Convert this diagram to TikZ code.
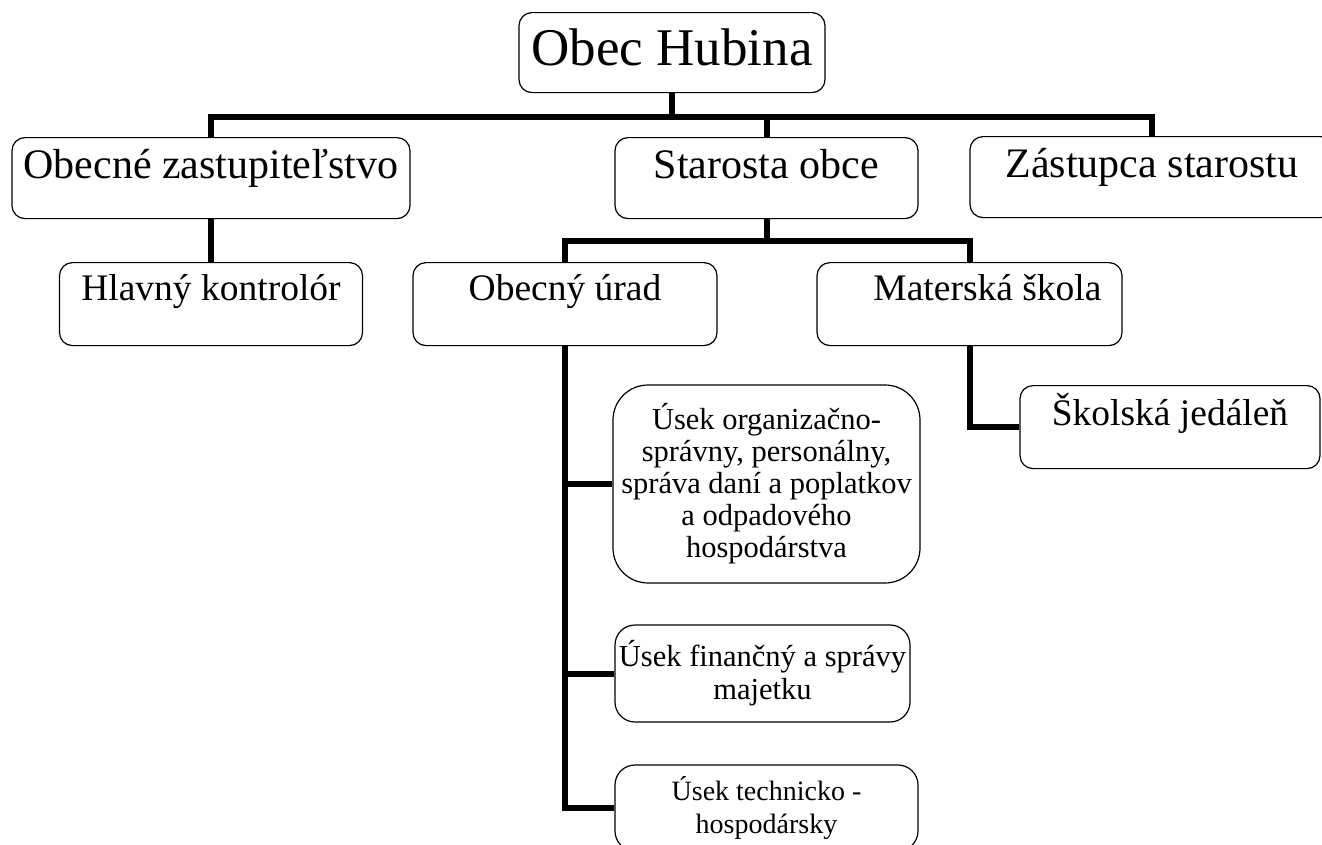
\documentclass[tikz,border=0pt]{standalone}
\usepackage{fontspec}
\setmainfont{Liberation Serif}
\usepackage{tikz}
\usetikzlibrary{positioning,calc}

\begin{document}
\begin{tikzpicture}[x=1pt, y=-1pt,
    box/.style={draw, line width=1.2pt, rounded corners=13pt, inner xsep=0pt, inner ysep=0pt, align=center, anchor=north},
    toplevel/.style={box, font=\fontsize{53}{60}\selectfont, text height=53pt, text depth=27pt},
    midlevel/.style={box, font=\fontsize{42}{48}\selectfont, text height=41pt, text depth=40pt},
    lowlevel/.style={box, font=\fontsize{37.5}{42}\selectfont, text height=38pt, text depth=45pt},
    section/.style={box, anchor=center, font=\fontsize{30.5}{32}\selectfont, rounded corners=20pt},
    link/.style={line width=6pt}]
    \useasboundingbox (0,0) rectangle (1322,844);

    % Top
    \node[toplevel, minimum width=306pt] (obec) at (672,12) {Obec Hubina};

    % Second row
    \node[midlevel, minimum width=398pt] (zastup) at (211,137) {Obecné zastupiteľstvo};
    \node[midlevel, minimum width=303pt] (starosta) at (766.5,137) {Starosta obce};
    \node[midlevel, minimum width=364pt] (zastupca) at (1152,136) {Zástupca starostu};

    % Third row
    \node[lowlevel, minimum width=303pt] (kontrolor) at (211,262) {Hlavný kontrolór};
    \node[lowlevel, minimum width=304pt] (urad) at (565,262) {Obecný úrad};
    \node[lowlevel, minimum width=305pt] (skola) at (969.5,262) {\hspace*{36pt}Materská škola};
    \node[lowlevel, minimum width=300pt, text height=40pt, text depth=43pt] (jedalen) at (1170,385) {Školská jedáleň};

    % Sections of the office
    \node[section, minimum width=307pt, minimum height=198pt, rounded corners=35pt] (usekorg) at (766.5,484)
        {Úsek organizačno-\\správny, personálny,\\správa daní a poplatkov\\a odpadového\\hospodárstva};
    \node[section, minimum width=295pt, minimum height=97pt, font=\fontsize{30.5}{33}\selectfont] (usekfin) at (762.5,673.5)
        {Úsek finančný a správy\\majetku};
    \node[section, minimum width=303pt, minimum height=86pt, font=\fontsize{28}{33}\selectfont] (usektech) at (766.5,808)
        {Úsek technicko -\\hospodársky};

    % Connectors
    \coordinate (busa) at (0,117);
    \coordinate (busb) at (0,241);
    \draw[link] (obec.south) -- (obec.south |- busa);
    \draw[link] (zastup.north) |- (busa -| zastupca.north) -- (zastupca.north);
    \draw[link] (starosta.north) -- (starosta.north |- busa);
    \draw[link] (zastup.south) -- (kontrolor.north);
    \draw[link] (urad.north) |- (busb -| skola.north) -- (skola.north);
    \draw[link] (starosta.south) -- (starosta.south |- busb);
    \draw[link] (urad.south) |- (usektech.west);
    \draw[link] (usekorg.west -| urad.south) -- (usekorg.west);
    \draw[link] (usekfin.west -| urad.south) -- (usekfin.west);
    \draw[link] (skola.south) |- (jedalen.west);
\end{tikzpicture}
\end{document}
